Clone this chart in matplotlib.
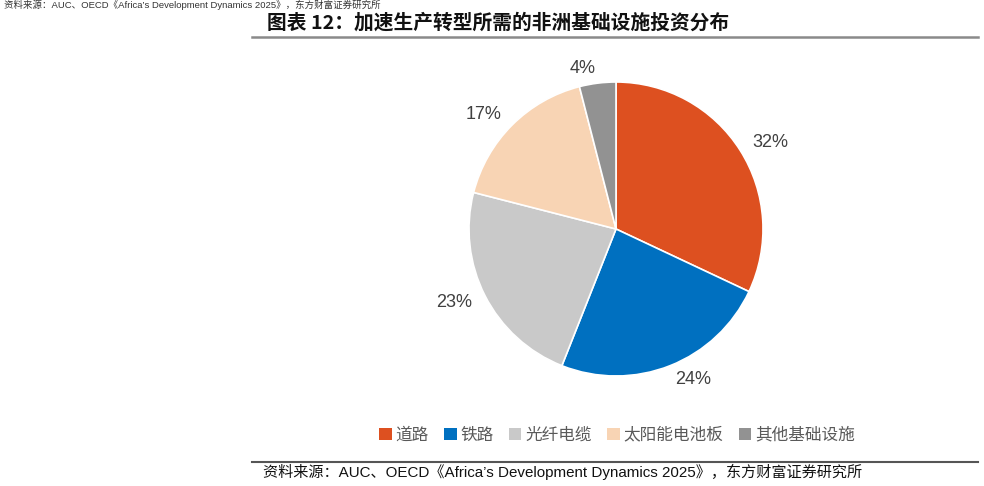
import matplotlib
matplotlib.use("Agg")
import matplotlib.pyplot as plt
from matplotlib.patches import Patch
from matplotlib.lines import Line2D

categories = ["道路", "铁路", "光纤电缆", "太阳能电池板", "其他基础设施"]
values = [32, 24, 23, 17, 4]
colors = ["#DD5020", "#0070C0", "#C9C9C9", "#F8D4B4", "#929292"]
title = "图表 12：加速生产转型所需的非洲基础设施投资分布"
source = "资料来源：AUC、OECD《Africa’s Development Dynamics 2025》，东方财富证券研究所"

W, H = 984, 486
fig = plt.figure(figsize=(W / 100, H / 100), dpi=100)
fig.patch.set_facecolor("white")

LAT = ["Liberation Sans", "Noto Sans CJK SC", "DejaVu Sans"]
CJK = ["Noto Sans CJK SC", "DejaVu Sans"]

# pie axes
cx, cy, r = 616, 229, 147
ax = fig.add_axes([(cx - r) / W, (H - cy - r) / H, 2 * r / W, 2 * r / H])
wedges, texts = ax.pie(values, colors=colors, startangle=90, counterclock=False,
                       labels=[f"{v}%" for v in values], labeldistance=1.1,
                       wedgeprops=dict(edgecolor="white", linewidth=1.2),
                       textprops=dict(fontsize=13, color="#404040", family=LAT))
ax.set_xlim(-1, 1)
ax.set_ylim(-1, 1)
ax.set_aspect("equal")
ax.axis("off")

# title
fig.text(267 / W, 1 - 23 / H, title, fontsize=14.2, fontweight="bold",
         family=["Noto Sans CJK SC", "DejaVu Sans"], color="#111111",
         ha="left", va="center")
# top rule
fig.add_artist(Line2D([252 / W, 978 / W], [1 - 37.5 / H] * 2, color="#8a8a8a", lw=1.8))
# bottom rule
fig.add_artist(Line2D([252 / W, 978 / W], [1 - 462 / H] * 2, color="#555555", lw=1.5))
# source
fig.text(263 / W, 1 - 472 / H, source, fontsize=10.9, family=LAT, color="#111111",
         ha="left", va="center")
# partially visible source line at top
fig.text(4 / W, 1 - 10 / H, source, fontsize=6.8, family=LAT, color="#333333",
         ha="left", va="bottom")

# legend
handles = [Patch(facecolor=c, edgecolor="none") for c in colors]
leg = fig.legend(handles, categories, loc="center", bbox_to_anchor=(617 / W, 1 - 435 / H),
                 ncol=5, frameon=False, handlelength=0.75, handleheight=0.75,
                 handletextpad=0.25, columnspacing=0.9,
                 prop=dict(family=CJK, size=12))
for t in leg.get_texts():
    t.set_color("#595959")

fig.savefig("out.png", dpi=100, facecolor="white")
